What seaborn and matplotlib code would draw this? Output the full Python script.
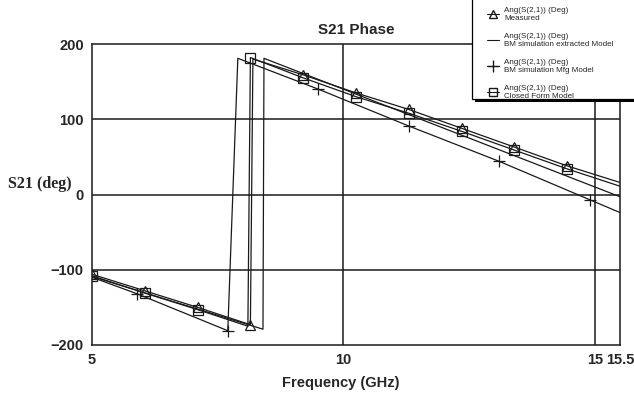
import matplotlib
matplotlib.use("Agg")
import matplotlib.pyplot as plt
import seaborn as sns
from matplotlib.lines import Line2D
from matplotlib.patches import Rectangle

# ---- data ----
meas_f = [5.0, 6.05, 7.1, 8.15, 8.2, 9.2, 10.25, 11.3, 12.35, 13.4, 14.45, 15.5]
meas_v = [-106, -128, -150, -173, 180, 159, 135, 113, 88, 63, 38, 16]
meas_marks = [0, 1, 2, 3, 5, 6, 7, 8, 9, 10]

ext_f = [5.0, 8.4, 8.42, 15.5]
ext_v = [-109, -179, 181, -3]

mfg_f = [5.0, 5.9, 7.7, 7.9, 9.5, 11.3, 13.1, 14.9, 15.5]
mfg_v = [-110, -132, -181, 181, 140, 91, 44, -7, -24]
mfg_marks = [1, 2, 4, 5, 6, 7]

cf_f = [5.0, 6.05, 7.1, 8.1, 8.15, 9.2, 10.25, 11.3, 12.35, 13.4, 14.45, 15.5]
cf_v = [-108, -131, -153, -175, 182, 155, 130, 108, 84, 59, 34, 11]
cf_marks = [0, 1, 2, 4, 5, 6, 7, 8, 9, 10]

x_ticks = [5, 10, 15, 15.5]
x_tick_labels = ["5", "10", "15", "15.5"]
y_ticks = [-200, -100, 0, 100, 200]
y_tick_labels = ["\u2212200", "\u2212100", "0", "100", "200"]

labels = ["Ang(S(2,1)) (Deg)\nMeasured",
          "Ang(S(2,1)) (Deg)\nBM simulation extracted Model",
          "Ang(S(2,1)) (Deg)\nBM simulation Mfg Model",
          "Ang(S(2,1)) (Deg)\nClosed Form Model"]

sns.set_theme(style="white")
plt.rcParams['font.family'] = ['Liberation Sans', 'DejaVu Sans']

W, H = 634, 396
fig = plt.figure(figsize=(W/100, H/100), dpi=100)
ax = fig.add_axes([92/W, 1-345/H, (620-92)/W, (345-44)/H])

lw = 0.9
sns.lineplot(x=meas_f, y=meas_v, ax=ax, color='k', lw=lw, marker='^', markersize=7,
             markevery=meas_marks, markerfacecolor='none', markeredgecolor='k',
             markeredgewidth=0.9, estimator=None, sort=False)
sns.lineplot(x=ext_f, y=ext_v, ax=ax, color='k', lw=lw, estimator=None, sort=False)
sns.lineplot(x=mfg_f, y=mfg_v, ax=ax, color='k', lw=lw, marker='+', markersize=9,
             markevery=mfg_marks, markeredgecolor='k', markeredgewidth=0.9,
             estimator=None, sort=False)
sns.lineplot(x=cf_f, y=cf_v, ax=ax, color='k', lw=lw, marker='s', markersize=7,
             markevery=cf_marks, markerfacecolor='none', markeredgecolor='k',
             markeredgewidth=0.9, estimator=None, sort=False)

ax.set_xlim(5, 15.5)
ax.set_ylim(-200, 200)
for yv in [-100, 0, 100]:
    ax.axhline(yv, color='k', lw=1.1, zorder=0.5)
for xv in [10, 15]:
    ax.axvline(xv, color='k', lw=1.1, zorder=0.5)

ax.set_xticks(x_ticks)
ax.set_xticklabels(x_tick_labels, fontsize=10.5, fontweight='bold')
ax.set_yticks(y_ticks)
ax.set_yticklabels(y_tick_labels, fontsize=10.5, fontweight='bold')
ax.tick_params(axis='both', direction='out', length=3, width=1, color='k', pad=3)
ax.tick_params(axis='x', length=0, pad=6)
for s in ax.spines.values():
    s.set_color('k')
    s.set_linewidth(1.1)
ax.set_xlabel("")
ax.set_ylabel("")

fig.text(356/W, 1-30/H, "S21 Phase", ha='center', va='center',
         fontsize=11, fontweight='bold')
fig.text(341/W, 1-383/H, "Frequency (GHz)", ha='center', va='center',
         fontsize=10.5, fontweight='bold')
fig.text(8/W, 1-184/H, "S21 (deg)", ha='left', va='center',
         fontsize=11.5, fontweight='bold', family=['Liberation Serif', 'DejaVu Serif'])

# legend frame with shadow (extends past the figure edges like the reference)
x0, x1, ytop, ybot = 472, 660, -10, 99
shadow = Rectangle(((x0+3)/W, 1-(ybot+3)/H), (x1-x0)/W, (ybot-ytop)/H,
                   transform=fig.transFigure, facecolor='black', edgecolor='none', zorder=5)
frame = Rectangle((x0/W, 1-ybot/H), (x1-x0)/W, (ybot-ytop)/H,
                  transform=fig.transFigure, facecolor='white', edgecolor='black',
                  lw=0.9, zorder=6)
fig.add_artist(shadow)
fig.add_artist(frame)

handles = [
    Line2D([], [], color='k', lw=0.8, marker='^', markersize=6, markerfacecolor='none'),
    Line2D([], [], color='k', lw=0.8),
    Line2D([], [], color='k', lw=0.8, marker='+', markersize=8),
    Line2D([], [], color='k', lw=0.8, marker='s', markersize=6, markerfacecolor='none'),
]
leg = fig.legend(handles, labels, loc='upper left', bbox_to_anchor=(487/W, 1-7/H),
                 bbox_transform=fig.transFigure, fontsize=5.8, frameon=False,
                 handlelength=1.5, handletextpad=0.6, labelspacing=1.35,
                 borderpad=0, borderaxespad=0)
leg.set_zorder(7)

fig.savefig("out.png", dpi=100)
